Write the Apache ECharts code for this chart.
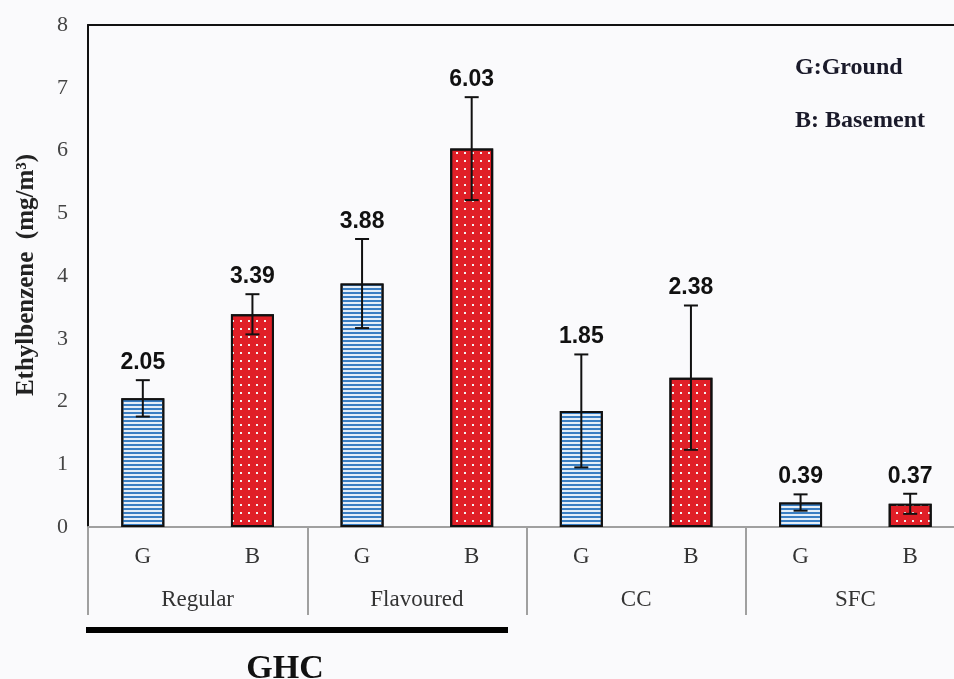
<!DOCTYPE html>
<html><head><meta charset="utf-8">
<script src="https://cdn.jsdelivr.net/npm/echarts@6/dist/echarts.min.js"></script>
<style>html,body{margin:0;padding:0;background:#fafafc}#c{width:954px;height:679px}</style>
</head><body><div id="c"></div>
<script>
const groups = ['Regular', 'Flavoured', 'CC', 'SFC'];
const floors = ['G', 'B', 'G', 'B', 'G', 'B', 'G', 'B'];
const values = [2.05, 3.39, 3.88, 6.03, 1.85, 2.38, 0.39, 0.37];
const errors = [0.29, 0.32, 0.71, 0.82, 0.90, 1.15, 0.13, 0.16];
const valueLabels = ['2.05', '3.39', '3.88', '6.03', '1.85', '2.38', '0.39', '0.37'];
const yAxisTitle = 'Ethylbenzene  (mg/m\u00B3)';
const legendLines = ['G:Ground', 'B: Basement'];
const bracketLabel = 'GHC';

const SERIF = '"Liberation Serif", "Times New Roman", serif';
const SANS = '"Liberation Sans", Arial, sans-serif';

const blueStyle = {
  color: '#e4eef8', borderColor: '#111', borderWidth: 2,
  decal: { symbol: 'rect', symbolSize: 1, dashArrayX: [1, 0], dashArrayY: [2, 1.5], color: '#3a7ec3' }
};
const redStyle = {
  color: '#e01f27', borderColor: '#111', borderWidth: 2,
  decal: { symbol: 'rect', symbolSize: 1, dashArrayX: [2, 6], dashArrayY: [2, 5.5], color: '#f4f0f0' }
};

const chart = echarts.init(document.getElementById('c'), null, { renderer: 'canvas' });
chart.setOption({
  backgroundColor: '#fafafc',
  animation: false,
  grid: { left: 88, top: 25, width: 877, height: 502, containLabel: false, outerBoundsMode: 'none' },
  xAxis: [
    {
      type: 'category', data: floors, position: 'bottom',
      axisLine: { show: true, lineStyle: { color: '#a0a0a0', width: 2 } },
      axisTick: { show: false },
      axisLabel: { interval: 0, margin: 18, color: '#333', fontSize: 23, fontFamily: SERIF }
    },
    {
      type: 'category', data: groups, position: 'bottom', offset: 0,
      axisLine: { show: false },
      axisTick: { show: true, interval: 0, length: 88, lineStyle: { color: '#a0a0a0', width: 2 } },
      axisLabel: { interval: 0, margin: 61, color: '#333', fontSize: 23, fontFamily: SERIF }
    },
    {
      type: 'category', data: floors, position: 'top',
      axisLine: { show: true, lineStyle: { color: '#111', width: 2 } },
      axisTick: { show: false }, axisLabel: { show: false }
    }
  ],
  yAxis: {
    type: 'value', min: 0, max: 8, interval: 1,
    axisLine: { show: true, lineStyle: { color: '#111', width: 2 } },
    axisTick: { show: false },
    splitLine: { show: false },
    axisLabel: { margin: 20, color: '#444', fontSize: 22, fontFamily: SERIF }
  },
  series: [
    {
      type: 'bar', xAxisIndex: 0, yAxisIndex: 0, barWidth: 43,
      data: values.map((v, i) => ({ value: v, itemStyle: floors[i] === 'G' ? blueStyle : redStyle }))
    },
    {
      type: 'custom', xAxisIndex: 0, yAxisIndex: 0, z: 5,
      data: values.map((v, i) => [i, v, errors[i]]),
      renderItem: function (params, api) {
        const i = api.value(0), v = api.value(1), e = api.value(2);
        const top = api.coord([i, v + e]);
        const bot = api.coord([i, v - e]);
        const hw = 7;
        const st = { stroke: '#111', lineWidth: 2 };
        return {
          type: 'group', children: [
            { type: 'line', shape: { x1: top[0], y1: top[1], x2: bot[0], y2: bot[1] }, style: st },
            { type: 'line', shape: { x1: top[0] - hw, y1: top[1], x2: top[0] + hw, y2: top[1] }, style: st },
            { type: 'line', shape: { x1: bot[0] - hw, y1: bot[1], x2: bot[0] + hw, y2: bot[1] }, style: st },
            { type: 'text', style: { text: valueLabels[params.dataIndex], x: top[0], y: top[1] - 6, align: 'center', verticalAlign: 'bottom', font: 'bold 23px ' + SANS, fill: '#111' } }
          ]
        };
      }
    }
  ],
  graphic: [
    { type: 'text', x: 27, y: 275, rotation: Math.PI / 2, style: { text: yAxisTitle, align: 'center', verticalAlign: 'middle', font: 'bold 25px ' + SERIF, fill: '#222' } },
    { type: 'text', x: 795, y: 68, style: { text: legendLines[0], align: 'left', verticalAlign: 'middle', font: 'bold 24px ' + SERIF, fill: '#1a1a2a' } },
    { type: 'text', x: 795, y: 121, style: { text: legendLines[1], align: 'left', verticalAlign: 'middle', font: 'bold 24px ' + SERIF, fill: '#1a1a2a' } },
    { type: 'line', shape: { x1: 86, y1: 630, x2: 508, y2: 630 }, style: { stroke: '#000', lineWidth: 6 } },
    { type: 'text', x: 285, y: 669, style: { text: bracketLabel, align: 'center', verticalAlign: 'middle', font: 'bold 34px ' + SERIF, fill: '#111' } }
  ]
});
</script>
</body></html>
